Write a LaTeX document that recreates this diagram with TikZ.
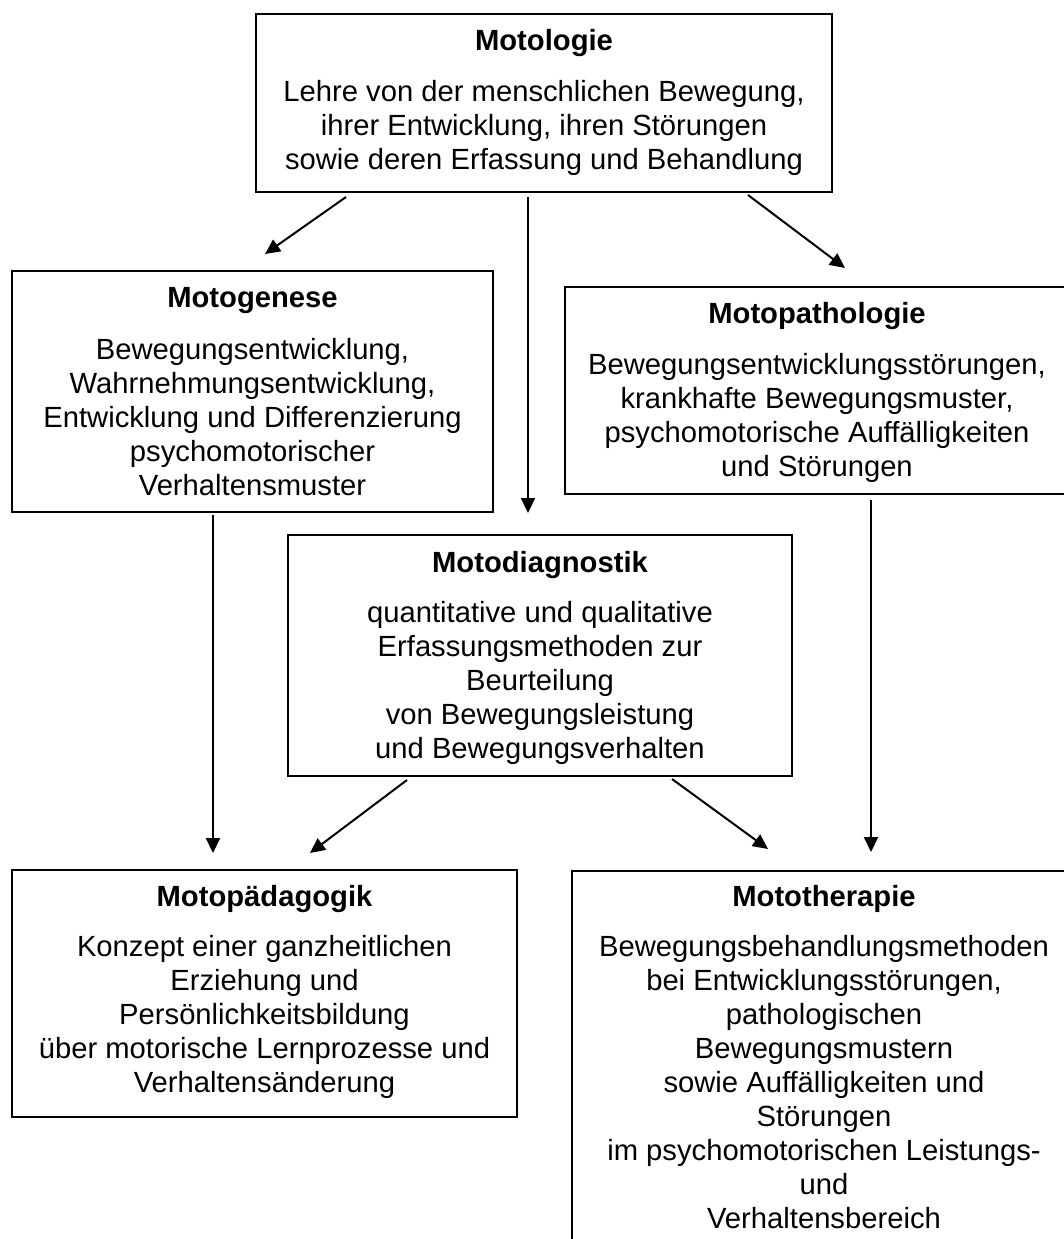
\documentclass[tikz,border=0pt]{standalone}
\usepackage{fontspec}
\setmainfont{Liberation Sans}
\usetikzlibrary{arrows.meta,calc,fit}
\newcommand{\mydfont}{\fontsize{14.6pt}{17pt}\selectfont}
\begin{document}
\begin{tikzpicture}[x=0.5pt,y=-0.5pt,
  box/.style={draw, line width=1pt, inner sep=0pt},
  ttl/.style={font=\mydfont\bfseries, inner sep=0pt, anchor=base},
  body/.style={font=\mydfont, align=center, inner sep=0pt, anchor=base},
  arr/.style={-{Triangle[length=7.5pt,width=7pt]}, line width=1pt}]
\useasboundingbox (0,0) rectangle (1064,1239);
\fill[white] (0,0) rectangle (1064,1239);
\clip (0,0) rectangle (1064,1239);
% boxes
\node[box, fit={(256,14) (832,192)}] (motologie) {};
\node[box, fit={(12,271) (493,512)}] (motogenese) {};
\node[box, fit={(565,287) (1069,494)}] (motopath) {};
\node[box, fit={(288,535) (792,776)}] (motodiag) {};
\node[box, fit={(12,870) (517,1117)}] (motopaed) {};
\node[box, fit={(572,871) (1077,1260)}] (motother) {};
% texts (body nodes are anchored at the baseline of their last line)
\node[ttl] (motologieT) at ($(motologie.north)+(0,37)$) {Motologie};
\node[body] (motologieB) at ($(motologie.north)+(0,156)$) {Lehre von der menschlichen Bewegung,\\ihrer Entwicklung, ihren Störungen\\sowie deren Erfassung und Behandlung};
\node[ttl] (motogeneseT) at ($(motogenese.north)+(0,37)$) {Motogenese};
\node[body] (motogeneseB) at ($(motogenese.north)+(0,225)$) {Bewegungsentwicklung,\\Wahrnehmungsentwicklung,\\Entwicklung und Differenzierung\\psychomotorischer\\Verhaltensmuster};
\node[ttl] (motopathT) at ($(motopath.north)+(0,37)$) {Motopathologie};
\node[body] (motopathB) at ($(motopath.north)+(0,190)$) {Bewegungsentwicklungsstörungen,\\krankhafte Bewegungsmuster,\\psychomotorische Auffälligkeiten\\und Störungen};
\node[ttl] (motodiagT) at ($(motodiag.north)+(0,38)$) {Motodiagnostik};
\node[body] (motodiagB) at ($(motodiag.north)+(0,224)$) {quantitative und qualitative\\Erfassungsmethoden zur\\Beurteilung\\von Bewegungsleistung\\und Bewegungsverhalten};
\node[ttl] (motopaedT) at ($(motopaed.north)+(0,37)$) {Motopädagogik};
\node[body] (motopaedB) at ($(motopaed.north)+(0,223)$) {Konzept einer ganzheitlichen\\Erziehung und\\Persönlichkeitsbildung\\über motorische Lernprozesse und\\Verhaltensänderung};
\path (motother.north west) -- (1077,871) coordinate[pos=0.5] (mtc);
\node[ttl] (mototherT) at ($(mtc)+(0,36)$) {Mototherapie};
\node[body] (mototherB) at ($(mtc)+(0,358)$) {Bewegungsbehandlungsmethoden\\bei Entwicklungsstörungen,\\pathologischen\\Bewegungsmustern\\sowie Auffälligkeiten und\\Störungen\\im psychomotorischen Leistungs-\\und\\Verhaltensbereich};
% connectors
\draw[arr] ($(motologie.south west)+(91,4)$) -- ($(motogenese.north west)+(254,-16)$);
\draw[arr] ($(motologie.south west)+(273,4)$) -- ($(motodiag.north west)+(241,-21)$);
\draw[arr] ($(motologie.south west)+(493,2)$) -- ($(motopath.north west)+(281,-18)$);
\draw[arr] ($(motogenese.south west)+(202,2)$) -- ($(motopaed.north west)+(202,-16)$);
\draw[arr] ($(motopath.south west)+(307,5)$) -- ($(motother.north west)+(300,-18)$);
\draw[arr] ($(motodiag.south west)+(120,3)$) -- ($(motopaed.north west)+(299,-16)$);
\draw[arr] ($(motodiag.south west)+(385,2)$) -- ($(motother.north west)+(197,-21)$);
\end{tikzpicture}
\end{document}
